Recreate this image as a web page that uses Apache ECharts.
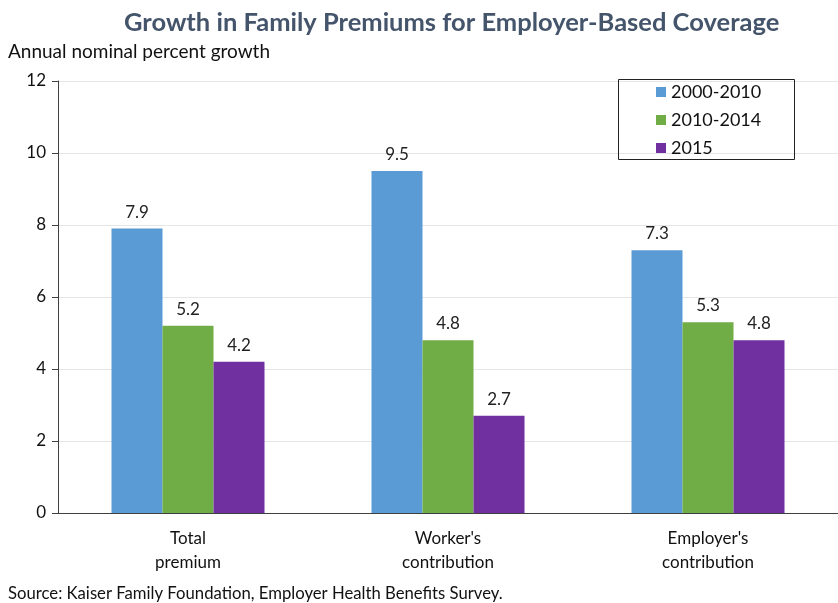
<!DOCTYPE html>
<html>
<head>
<meta charset="utf-8">
<script src="https://cdn.jsdelivr.net/npm/echarts@6/dist/echarts.min.js"></script>
<style>
  html, body { margin: 0; padding: 0; background: #fff; }
  #chart { width: 838px; height: 603px; }
</style>
</head>
<body>
<div id="chart"></div>
<script>
// Premium growth by component, annual nominal percent
const categories = ['Total\npremium', "Worker's\ncontribution", "Employer's\ncontribution"];
const seriesNames = ['2000-2010', '2010-2014', '2015'];
const growth2000to2010 = [7.9, 9.5, 7.3];
const growth2010to2014 = [5.2, 4.8, 5.3];
const growth2015 = [4.2, 2.7, 4.8];
const yTicks = [0, 2, 4, 6, 8, 10, 12];

const colors = ['#5B9BD5', '#70AD47', '#7030A0'];
const FONT = 'Lato, "Open Sans", sans-serif';

const chart = echarts.init(document.getElementById('chart'));

const labelStyle = {
  show: true,
  position: 'top',
  distance: 8,
  color: '#222',
  fontSize: 17,
  fontFamily: FONT,
  formatter: p => p.value.toFixed(1)
};

function barSeries(name, data, color) {
  return {
    name: name,
    type: 'bar',
    data: data,
    barWidth: 51,
    barGap: '0%',
    itemStyle: { color: color },
    label: labelStyle
  };
}

chart.setOption({
  animation: false,
  textStyle: { fontFamily: FONT },
  title: [
    {
      text: 'Growth in Family Premiums for Employer-Based Coverage',
      left: 124,
      top: 10,
      padding: 0,
      textStyle: { fontSize: 25.5, fontWeight: 'bold', color: '#44546A', fontFamily: FONT }
    },
    {
      text: 'Annual nominal percent growth',
      left: 8,
      top: 42,
      padding: 0,
      textStyle: { fontSize: 19, fontWeight: 'normal', color: '#111', fontFamily: FONT }
    },
    {
      text: 'Source: Kaiser Family Foundation, Employer Health Benefits Survey.',
      left: 8,
      top: 585,
      padding: 0,
      textStyle: { fontSize: 16.7, fontWeight: 'normal', color: '#111', fontFamily: FONT }
    }
  ],
  legend: {
    orient: 'vertical',
    left: 656,
    top: 83,
    padding: 0,
    itemWidth: 10,
    itemHeight: 10,
    itemGap: 10,
    icon: 'rect',
    data: seriesNames,
    textStyle: { fontSize: 18, color: '#111', fontFamily: FONT, lineHeight: 17 }
  },
  graphic: [
    {
      type: 'rect',
      shape: { x: 618.5, y: 79.5, width: 176, height: 80 },
      style: { fill: 'none', stroke: '#222', lineWidth: 1 },
      z: 100
    }
  ],
  grid: { left: 58, right: 0, top: 81, bottom: 90 },
  xAxis: {
    type: 'category',
    data: categories,
    axisLine: { lineStyle: { color: '#404040', width: 1 } },
    axisTick: { show: false },
    axisLabel: { fontSize: 17, color: '#111', lineHeight: 24, margin: 14, fontFamily: FONT }
  },
  yAxis: {
    type: 'value',
    min: yTicks[0],
    max: yTicks[yTicks.length - 1],
    interval: 2,
    axisLine: { show: true, lineStyle: { color: '#404040', width: 1 } },
    axisTick: { show: true, length: 6, lineStyle: { color: '#404040' } },
    axisLabel: { fontSize: 17, color: '#111', margin: 12, fontFamily: FONT },
    splitLine: { lineStyle: { color: '#E6E6E6', width: 1 } }
  },
  series: [
    barSeries(seriesNames[0], growth2000to2010, colors[0]),
    barSeries(seriesNames[1], growth2010to2014, colors[1]),
    barSeries(seriesNames[2], growth2015, colors[2])
  ]
});
</script>
</body>
</html>
